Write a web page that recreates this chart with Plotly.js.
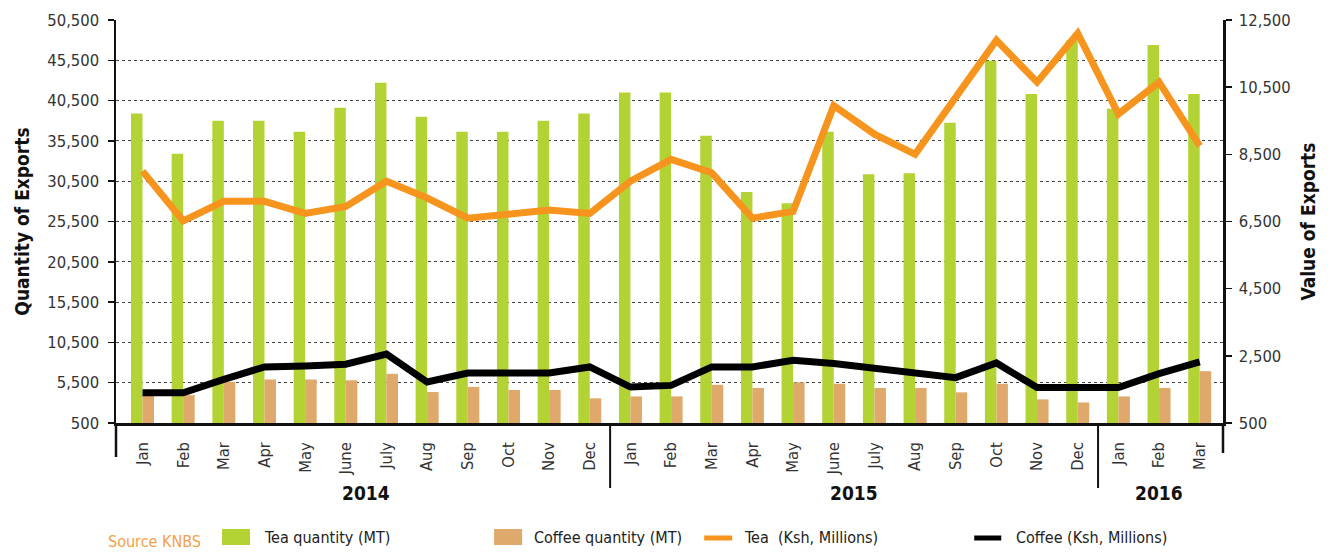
<!DOCTYPE html>
<html>
<head>
<meta charset="utf-8">
<script src="https://cdn.plot.ly/plotly-3.0.1.min.js"></script>
<style>
  html, body { margin: 0; padding: 0; background: #ffffff; }
  #chart { width: 1333px; height: 552px; }
</style>
</head>
<body>
<div id="chart"></div>
<script>
// ---------- data ----------
const months = ['Jan','Feb','Mar','Apr','May','June','July','Aug','Sep','Oct','Nov','Dec',
                'Jan','Feb','Mar','Apr','May','June','July','Aug','Sep','Oct','Nov','Dec',
                'Jan','Feb','Mar'];
const yearLabels = ['2014','2015','2016'];
const yearFirstIndex = [0, 12, 24];
const yearLastIndex = [11, 23, 26];

const seriesNames = ['Tea quantity (MT)','Coffee quantity (MT)','Tea \u00a0(Ksh, Millions)','Coffee (Ksh, Millions)'];
const sourceNote = 'Source KNBS';
const leftTitle = 'Quantity of Exports';
const rightTitle = 'Value of Exports';

const teaQty = [38900, 33900, 38000, 38000, 36650, 39600, 42700, 38500, 36650, 36650, 38000, 38900,
                41500, 41500, 36150, 29150, 27750, 36650, 31350, 31480, 37750, 45450, 41330, 48000,
                39500, 47400, 41330];
const coffeeQty = [4000, 3950, 5600, 5900, 5900, 5800, 6600, 4340, 4980, 4600, 4600, 3560,
                   3800, 3800, 5240, 4850, 5540, 5370, 4850, 4850, 4300, 5370, 3430, 3050,
                   3800, 4850, 6930];
const teaVal = [8000, 6520, 7100, 7100, 6740, 6950, 7700, 7200, 6600, 6740, 6840, 6740,
                7700, 8350, 7950, 6600, 6800, 9950, 9100, 8500, 10200, 11900, 10650, 12100,
                9700, 10650, 8750];
const coffeeVal = [1400, 1400, 1800, 2170, 2200, 2250, 2550, 1720, 1990, 1990, 1990, 2170,
                   1570, 1620, 2170, 2170, 2370, 2270, 2120, 1990, 1850, 2290, 1555, 1555,
                   1555, 1970, 2320];

const leftTicks = [500, 5500, 10500, 15500, 20500, 25500, 30500, 35500, 40500, 45500, 50500];
const rightTicks = [500, 2500, 4500, 6500, 8500, 10500, 12500];

// ---------- styling ----------
const FONT = "'DejaVu Sans Condensed', 'Liberation Sans Narrow', 'Arial Narrow', sans-serif";
const colors = ['#b3d335', '#dfa96b', '#f7941d', '#000000'];
const W = 1333, H = 552;
const PL = 116, PR = 1222.7, PT = 20, PB = 423;
const px2x = p => (p - PL) / (PR - PL);
const px2y = p => (PB - p) / (PB - PT);

const xIdx = months.map((_, i) => i);

const traces = [
  { type: 'bar', name: seriesNames[0], x: xIdx, y: teaQty, yaxis: 'y',
    marker: { color: colors[0] } },
  { type: 'bar', name: seriesNames[1], x: xIdx, y: coffeeQty, yaxis: 'y',
    marker: { color: colors[1] } },
  { type: 'scatter', mode: 'lines', name: seriesNames[2], x: xIdx, y: teaVal, yaxis: 'y2',
    line: { color: colors[2], width: 7 } },
  { type: 'scatter', mode: 'lines', name: seriesNames[3], x: xIdx, y: coffeeVal, yaxis: 'y2',
    line: { color: colors[3], width: 7 } }
];

const shapes = [];
const annotations = [];

// category group separators
const boundaries = [yearLastIndex[0] + 0.5, yearLastIndex[1] + 0.5];
boundaries.forEach(b => shapes.push({ type: 'line', xref: 'x', yref: 'paper', x0: b, x1: b,
  y0: 0, y1: px2y(488), line: { color: '#111', width: 2 } }));
shapes.push({ type: 'line', xref: 'paper', yref: 'paper', x0: 0, x1: 0, y0: 0, y1: px2y(457),
  line: { color: '#111', width: 2.5 } });
shapes.push({ type: 'line', xref: 'paper', yref: 'paper', x0: 1, x1: 1, y0: 0, y1: px2y(453),
  line: { color: '#111', width: 2.5 } });

// year labels
yearLabels.forEach((y, i) => annotations.push({
  xref: 'x', yref: 'paper', x: (yearFirstIndex[i] + yearLastIndex[i]) / 2, y: px2y(493),
  text: '<b>' + y + '</b>', showarrow: false, xanchor: 'center', yanchor: 'middle',
  font: { family: FONT, size: 19, color: '#111' }
}));

// manual legend
const legendSw = [
  { kind: 'rect', x0: 222, x1: 250, tx: 262 },
  { kind: 'rect', x0: 494, x1: 522, tx: 532 },
  { kind: 'line', x0: 704, x1: 732, tx: 742 },
  { kind: 'line', x0: 974, x1: 1001, tx: 1014 }
];
legendSw.forEach((s, i) => {
  if (s.kind === 'rect') {
    shapes.push({ type: 'rect', xref: 'paper', yref: 'paper', x0: px2x(s.x0), x1: px2x(s.x1),
      y0: px2y(529), y1: px2y(545), fillcolor: colors[i], line: { width: 0 } });
  } else {
    shapes.push({ type: 'line', xref: 'paper', yref: 'paper', x0: px2x(s.x0), x1: px2x(s.x1),
      y0: px2y(538), y1: px2y(538), line: { color: colors[i], width: 5 } });
  }
  annotations.push({ xref: 'paper', yref: 'paper', x: px2x(s.tx), y: px2y(537),
    text: seriesNames[i], showarrow: false, xanchor: 'left', yanchor: 'middle',
    font: { family: FONT, size: 16, color: '#222' } });
});
annotations.push({ xref: 'paper', yref: 'paper', x: px2x(106), y: px2y(541),
  text: sourceNote, showarrow: false, xanchor: 'left', yanchor: 'middle',
  font: { family: FONT, size: 16, color: '#f7a04a' } });

const layout = {
  width: W, height: H,
  margin: { l: PL, r: W - PR, t: PT, b: H - PB, pad: 0 },
  paper_bgcolor: '#ffffff', plot_bgcolor: '#ffffff',
  showlegend: false,
  barmode: 'group', bargap: 0.434, bargroupgap: 0,
  font: { family: FONT, color: '#222' },
  xaxis: {
    range: [-0.652, 26.573], tickmode: 'array', tickvals: xIdx, ticktext: months,
    tickangle: -90, showgrid: false, zeroline: false, showline: true,
    linecolor: '#111', linewidth: 2.5, ticks: '', ticklabelstandoff: 10,
    tickfont: { family: FONT, size: 16.5, color: '#333' }, fixedrange: true
  },
  yaxis: {
    range: [500, 50500], tickmode: 'array', tickvals: leftTicks, tickformat: ',d',
    showgrid: true, gridcolor: '#444', griddash: 'dot', gridwidth: 1,
    zeroline: false, showline: true, linecolor: '#111', linewidth: 2.5,
    ticks: 'outside', ticklen: 6, tickwidth: 1.5, tickcolor: '#111', ticklabelstandoff: 5,
    tickfont: { family: FONT, size: 16.5, color: '#333' },
    title: { text: leftTitle, standoff: 13, font: { family: FONT, size: 19, weight: 'bold', color: '#111' } }
  },
  yaxis2: {
    overlaying: 'y', side: 'right', range: [500, 12500], tickmode: 'array', tickvals: rightTicks,
    tickformat: ',d', showgrid: false, zeroline: false, showline: true,
    linecolor: '#111', linewidth: 2.5, ticks: 'outside', ticklen: 6, tickwidth: 1.5, tickcolor: '#111',
    ticklabelstandoff: 4,
    tickfont: { family: FONT, size: 16.5, color: '#333' },
    title: { text: rightTitle, standoff: 12, font: { family: FONT, size: 19, weight: 'bold', color: '#111' } }
  },
  shapes: shapes,
  annotations: annotations
};

Plotly.newPlot('chart', traces, layout, { staticPlot: true, displayModeBar: false });
</script>
</body>
</html>
